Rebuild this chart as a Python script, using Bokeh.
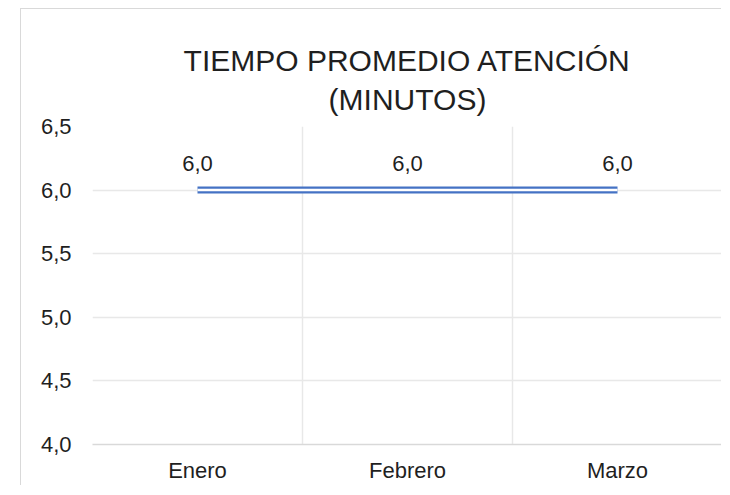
from bokeh.plotting import figure
from bokeh.models import ColumnDataSource, FixedTicker, Range1d, Title
from bokeh.embed import file_html
from bokeh.resources import INLINE
from bokeh.core.properties import value

# ---- data ----
months = ["Enero", "Febrero", "Marzo"]
tiempo = [6.0, 6.0, 6.0]
y_ticks = [4.0, 4.5, 5.0, 5.5, 6.0, 6.5]
y_tick_labels = ["4,0", "4,5", "5,0", "5,5", "6,0", "6,5"]
title_lines = ["TIEMPO PROMEDIO ATENCIÓN", "(MINUTOS)"]

FONT = "Liberation Sans"
TXT = "#1f1f1f"
BLUE = "#4472C4"

xs = [i + 0.5 for i in range(len(months))]
src = ColumnDataSource(dict(
    x=xs, y=tiempo,
    lbl=[f"{v:.1f}".replace(".", ",") for v in tiempo],
))

p = figure(width=701, height=477, output_backend="svg", toolbar_location=None,
           title=None,
           x_range=Range1d(0, len(months)), y_range=Range1d(y_ticks[0], y_ticks[-1]),
           min_border_left=71, min_border_right=0, min_border_top=117,
           min_border_bottom=42)
p.margin = (8, 0, 0, 20)
p.styles = {"border-left": "1px solid #d9d9d9", "border-top": "1px solid #d9d9d9"}
p.outline_line_color = None
p.background_fill_color = "white"
p.border_fill_color = "white"

# title: two centred lines, first added sits next to the frame
for txt, so in ((title_lines[1], 22), (title_lines[0], -14)):
    p.add_layout(Title(text=txt, align="center", text_font=FONT,
                       text_font_size="30px", text_font_style="normal",
                       text_color=TXT, standoff=so), "above")

# axes
p.xaxis.ticker = FixedTicker(ticks=xs)
p.xaxis.major_label_overrides = {x: m for x, m in zip(xs, months)}
p.yaxis.ticker = FixedTicker(ticks=y_ticks)
p.yaxis.major_label_overrides = {t: l for t, l in zip(y_ticks, y_tick_labels)}
for ax in (p.xaxis[0], p.yaxis[0]):
    ax.major_tick_in = 0
    ax.major_tick_out = 0
    ax.minor_tick_in = 0
    ax.minor_tick_out = 0
    ax.major_label_text_font = FONT
    ax.major_label_text_font_size = "22px"
    ax.major_label_text_color = TXT
p.yaxis.axis_line_color = None
p.yaxis.major_label_standoff = 21
p.xaxis.axis_line_color = "#d9d9d9"
p.xaxis.axis_line_width = 1.5
p.xaxis.major_label_standoff = 13

# grids
p.xgrid.ticker = FixedTicker(ticks=list(range(len(months) + 1)))
p.xgrid.grid_line_color = "#e8e8e8"
p.xgrid.grid_line_width = 1.5
p.ygrid.ticker = FixedTicker(ticks=y_ticks)
p.ygrid.grid_line_color = "#e8e8e8"
p.ygrid.grid_line_width = 1.5

# double line (compound style)
p.line("x", "y", source=src, line_color=BLUE, line_width=7, line_cap="butt")
p.line("x", "y", source=src, line_color="white", line_width=2.5, line_cap="butt")

# data labels
p.text("x", "y", text="lbl", source=src, text_font=value(FONT),
       text_font_size="22px", text_color=TXT, text_align="center",
       text_baseline="alphabetic", y_offset=-27)

open("out.html", "w").write(file_html(p, INLINE))
